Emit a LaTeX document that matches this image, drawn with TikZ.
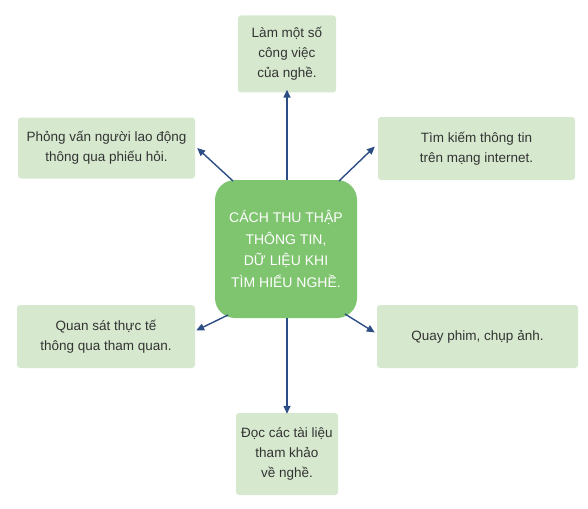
\documentclass[tikz,border=0pt]{standalone}
\usepackage{fontspec}
\setmainfont{Liberation Sans}
\usetikzlibrary{arrows.meta}
\definecolor{boxgreen}{HTML}{D6E9CE}
\definecolor{centergreen}{HTML}{7FC46F}
\definecolor{arrblue}{HTML}{2D4E84}
\definecolor{txt}{HTML}{333333}
\begin{document}
\begin{tikzpicture}[x=1pt,y=-1pt,
  leaf/.style={fill=boxgreen, draw=none, rounded corners=3pt, align=center,
    text=txt, font=\fontsize{13.5}{20}\selectfont, inner sep=0pt},
  hub/.style={fill=centergreen, draw=none, rounded corners=20pt, align=center,
    text=white, font=\fontsize{14}{21.5}\selectfont, inner sep=0pt},
  arr/.style={draw=arrblue, line width=1.4pt, -{Triangle[length=8pt,width=7pt]}}]
\useasboundingbox (0,0) rectangle (588,508);
\node[hub, minimum width=142pt, minimum height=138pt] (c) at (286,249)
  {CÁCH THU THẬP\\THÔNG TIN,\\DỮ LIỆU KHI\\TÌM HIỂU NGHỀ.};
\node[leaf, minimum width=98pt, minimum height=77pt] (t) at (287,54)
  {Làm một số\\công việc\\của nghề.};
\node[leaf, minimum width=177pt, minimum height=61pt] (tl) at (106.5,148)
  {Phỏng vấn người lao động\\thông qua phiếu hỏi.};
\node[leaf, minimum width=197pt, minimum height=63pt] (tr) at (476.5,148.5)
  {Tìm kiếm thông tin\\trên mạng internet.};
\node[leaf, minimum width=178pt, minimum height=63pt] (bl) at (106,336.5)
  {Quan sát thực tế\\thông qua tham quan.};
\node[leaf, minimum width=201pt, minimum height=63pt] (br) at (477.5,336.5)
  {Quay phim, chụp ảnh.};
\node[leaf, minimum width=102pt, minimum height=82pt] (b) at (287,454)
  {Đọc các tài liệu\\tham khảo\\về nghề.};
\coordinate (s1) at (233,181);
\coordinate (s2) at (339,181);
\coordinate (s3) at (228,315);
\coordinate (s4) at (345,314);
\draw[arr] (c.north -| t.south) -- ([yshift=3pt]t.south);
\draw[arr] (c.south -| b.north) -- ([yshift=-1pt]b.north);
\draw[arr] (s1) -- ([xshift=2pt]tl.east);
\draw[arr] (s2) -- ([xshift=-3pt,yshift=2pt]tr.west);
\draw[arr] (s3) -- ([xshift=1pt,yshift=6pt]bl.east);
\draw[arr] (s4) -- ([xshift=-2pt,yshift=4pt]br.west);
\end{tikzpicture}
\end{document}
